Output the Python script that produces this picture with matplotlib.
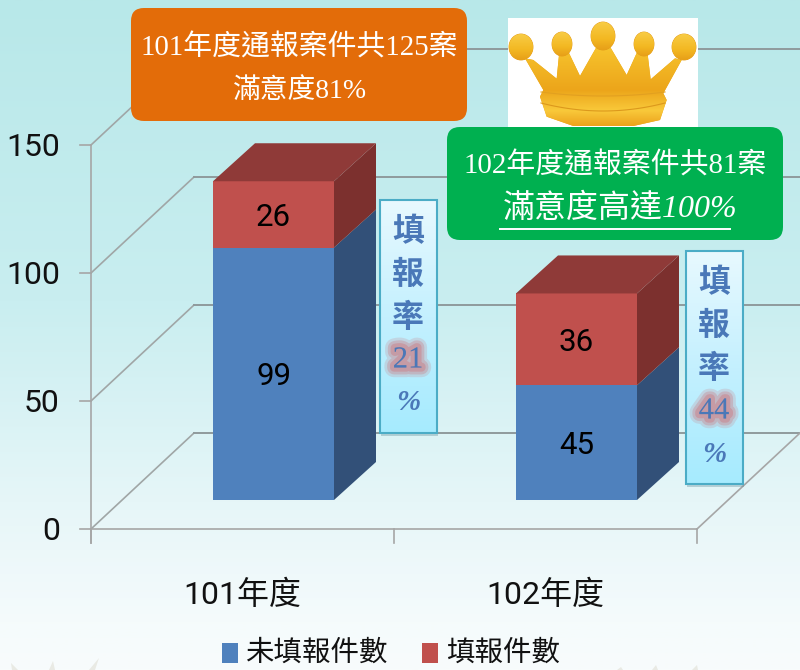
#!/usr/bin/env python3
"""
Satisfaction survey chart: 3D style stacked bars for year 101 and 102
"""

import numpy as np
import matplotlib
matplotlib.use('Agg')
import matplotlib.pyplot as plt
import matplotlib.patheffects as pe
from matplotlib.colors import LinearSegmentedColormap
from matplotlib.patches import Polygon, Rectangle, FancyBboxPatch, Ellipse

CJK = 'Noto Sans CJK TC'
SERIF_CJK = ['Liberation Serif', CJK]
NUM_CJK = ['Roboto', CJK]

categories = ['101年度', '102年度']
not_filed = [99, 45]
filed = [26, 36]
series_names = ['未填報件數', '填報件數']
y_ticks = [0, 50, 100, 150]
fill_rates = ['21', '44']

# pixel layout of the fake 3D chart
FRONT_X0, FRONT_X1 = 91, 697
FRONT_Y0 = 529
WALL_DX, WALL_DY = 103, -96
UNIT_AXIS = 2.56
UNIT_BAR = 2.55
BAR_BASE = 500
BAR_LEFT = [213, 516]
BAR_W = 121
DEPTH_DX, DEPTH_DY = 42, -38

BLUE = ['#4f81bd', '#325078']
RED = ['#c0504d', '#7c302e', '#8f3a38']
GRID = '#8f9a9c'

fig = plt.figure(figsize=(8, 6.7), dpi=100)
ax = fig.add_axes([0, 0, 1, 1])
ax.axis('off')


def gradient(extent, stops, zorder, clip=None):
    """Vertical gradient image, optional clip patch"""
    cmap = LinearSegmentedColormap.from_list('g', stops)
    im = ax.imshow(np.linspace(0, 1, 256).reshape(-1, 1), cmap=cmap, aspect='auto',
                   extent=extent, origin='upper', zorder=zorder, interpolation='bilinear')
    if clip is not None:
        im.set_clip_path(clip)
    return im


def value_y(v):
    return FRONT_Y0 - v * UNIT_AXIS


# background
gradient((0, 800, 670, 0), [(0, '#b8e8e9'), (0.45, '#c9eef0'), (0.75, '#e6f6f8'), (0.93, '#f5fbfc'), (1, '#f8fcfc')], 0)

# faint flowers at the bottom edge
for x, h, lean in [(15, 7, -4), (52, 9, 1), (92, 12, 7), (620, 3, 1), (655, 5, 1), (695, 5, 2)]:
    ax.add_patch(Polygon([(x - 3, 670), (x + lean, 670 - h), (x + 3, 670)], fc='#e9eae4', ec='none', zorder=0.5))

# walls and floor
for v in y_ticks:
    y = value_y(v)
    ax.plot([FRONT_X0 - 11, FRONT_X0], [y, y], color='#a6a6a6', lw=1.2, zorder=1)
    ax.plot([FRONT_X0, FRONT_X0 + WALL_DX], [y, y + WALL_DY], color='#a0a6a6', lw=1.2, zorder=1)
    ax.plot([FRONT_X0 + WALL_DX, 800], [y + WALL_DY, y + WALL_DY], color=GRID, lw=1.4, zorder=1)
    ax.text(60, y + 2, str(v), ha='right', va='center', fontsize=23, family=NUM_CJK, color='#111111', zorder=2)
ax.plot([FRONT_X0, FRONT_X0], [value_y(150), FRONT_Y0 + 14], color='#a6a6a6', lw=1.2, zorder=1)
ax.plot([FRONT_X0, FRONT_X1], [FRONT_Y0, FRONT_Y0], color='#a6a6a6', lw=1.2, zorder=1)
ax.plot([FRONT_X1, FRONT_X1 + WALL_DX], [FRONT_Y0, FRONT_Y0 + WALL_DY], color='#a6a6a6', lw=1.2, zorder=1)
for i in range(len(categories) + 1):
    x = FRONT_X0 + i * (FRONT_X1 - FRONT_X0) / len(categories)
    ax.plot([x, x], [FRONT_Y0, FRONT_Y0 + 14], color='#a6a6a6', lw=1.2, zorder=1)


def draw_segment(left, y_low, y_high, face, side):
    ax.add_patch(Rectangle((left, y_high), BAR_W, y_low - y_high, fc=face, ec='none', zorder=3))
    right = left + BAR_W
    ax.add_patch(Polygon([(right, y_low), (right, y_high), (right + DEPTH_DX, y_high + DEPTH_DY),
                          (right + DEPTH_DX, y_low + DEPTH_DY)], fc=side, ec='none', zorder=3))


# bars
for i, cat in enumerate(categories):
    left = BAR_LEFT[i]
    mid = BAR_BASE - not_filed[i] * UNIT_BAR
    top = BAR_BASE - (not_filed[i] + filed[i]) * UNIT_BAR
    draw_segment(left, BAR_BASE, mid, BLUE[0], BLUE[1])
    draw_segment(left, mid, top, RED[0], RED[1])
    ax.add_patch(Polygon([(left, top), (left + BAR_W, top), (left + BAR_W + DEPTH_DX, top + DEPTH_DY),
                          (left + DEPTH_DX, top + DEPTH_DY)], fc=RED[2], ec='none', zorder=3))
    cx = left + BAR_W / 2
    ax.text(cx, (BAR_BASE + mid) / 2 + 3, str(not_filed[i]), ha='center', va='center', fontsize=22.5,
            family=NUM_CJK, color='black', zorder=4)
    ax.text(cx, (mid + top) / 2 + 3, str(filed[i]), ha='center', va='center', fontsize=22.5,
            family=NUM_CJK, color='black', zorder=4)
    ax.text(FRONT_X0 + (i + 0.5) * (FRONT_X1 - FRONT_X0) / 2, 595, cat, ha='center', va='center',
            fontsize=23, family=NUM_CJK, color='#111111', zorder=2)

# legend
for x, name, color, tx in zip([222, 422], series_names, [BLUE[0], RED[0]], [245, 446]):
    ax.add_patch(Rectangle((x, 643), 16, 20, fc=color, ec='none', zorder=2))
    ax.text(tx, 653, name, ha='left', va='center', fontsize=20.5, family=CJK, color='#111111', zorder=2)

# crown picture
ax.add_patch(Rectangle((508, 18), 190, 112, fc='white', ec='none', zorder=4))
gold = [(0, '#f7c52e'), (0.55, '#eca51a'), (0.8, '#f9c93a'), (1, '#eba01a')]
crown_pts = np.array([(375, 175), (400, 180), (470, 236), (478, 155), (505, 155), (540, 228), (590, 140),
                      (630, 140), (680, 225), (712, 155), (742, 155), (752, 238), (825, 175), (845, 180),
                      (790, 280), (800, 300), (780, 360), (700, 378), (520, 378), (440, 350), (420, 290),
                      (430, 270)], dtype=float)
crown_pts = crown_pts / 3 + [400, 0]
body = Polygon(crown_pts, fc='#eca51a', ec='none', zorder=4.1)
ax.add_patch(body)
gradient((508, 698, 127, 45), gold, 4.1, body)
for cx, cy, rx, ry in [(521, 47, 12, 13), (562, 44, 10, 12), (603, 36, 12, 14), (644, 44, 10, 12), (684, 47, 12, 13)]:
    ball = Ellipse((cx, cy), 2 * rx, 2 * ry, fc='#f2b420', ec='#e39a18', lw=0.6, zorder=4.2)
    ax.add_patch(ball)
    gradient((cx - rx, cx + rx, cy + ry, cy - ry), [(0, '#f8cc45'), (0.6, '#f3b822'), (1, '#e79f18')], 4.2, ball)
xs = np.linspace(541, 665, 40)
for base, sag, col in [(92, 4, '#e2a020'), (103, 8, '#dc981c')]:
    ax.plot(xs, base + sag * (1 - ((xs - 603) / 62) ** 2), color=col, lw=0.8, zorder=4.3)

# info boxes
for (x0, y0, x1, y1), col in [((131, 8, 467, 121), '#e36c09'), ((447, 127, 783, 240), '#00b050')]:
    ax.add_patch(FancyBboxPatch((x0, y0), x1 - x0, y1 - y0, boxstyle='round,pad=0,rounding_size=13',
                                fc=col, ec='none', zorder=5))
ax.text(299, 48, '101年度通報案件共125案', ha='center', va='center', fontsize=20.8, family=SERIF_CJK, color='white', zorder=6)
ax.text(300, 91, '滿意度81%', ha='center', va='center', fontsize=20, family=SERIF_CJK, color='white', zorder=6)
ax.text(615, 166, '102年度通報案件共81案', ha='center', va='center', fontsize=20.8, family=SERIF_CJK, color='white', zorder=6)
ax.text(620, 209, '滿意度高達100%', ha='center', va='center', fontsize=23, family=SERIF_CJK, style='italic', color='white', zorder=6)
ax.plot([500, 730], [229, 229], color='white', lw=1.4, zorder=6)

# fill rate callouts
for (x0, y0), rate in zip([(380, 200), (686, 251)], fill_rates):
    w, h = 57, 233
    ax.add_patch(Rectangle((x0 + 1, y0 + 3), w, h, fc='#5f8a96', ec='none', alpha=0.35, zorder=4.5))
    gradient((x0, x0 + w, y0 + h, y0), [(0, '#e8f9ff'), (0.5, '#c4f0fe'), (1, '#a6ebff')], 4.6)
    ax.add_patch(Rectangle((x0, y0), w, h, fc='none', ec='#4bacc6', lw=1.5, zorder=4.7))
    cx = x0 + w / 2 - 0.5
    for j, ch in enumerate(['填', '報', '率']):
        ax.text(cx, y0 + 32 + j * 43, ch, ha='center', va='center', fontsize=23, family=CJK, fontweight='bold',
                color='#4a78b8', zorder=4.8)
    glow = [pe.Stroke(linewidth=w_, foreground='#c98a92', alpha=a) for w_, a in [(14, 0.25), (10, 0.4), (6, 0.6)]]
    ax.text(cx, y0 + 160, rate, ha='center', va='center', fontsize=22, family='Liberation Serif', color='#4a78b8',
            zorder=4.8, path_effects=glow + [pe.Normal()])
    ax.text(cx, y0 + 203, '%', ha='center', va='center', fontsize=21, family='Liberation Serif', style='italic',
            fontweight='bold', color='#4a78b8', zorder=4.8)

ax.set_xlim(0, 800)
ax.set_ylim(670, 0)

plt.savefig('out.png', dpi=100)
